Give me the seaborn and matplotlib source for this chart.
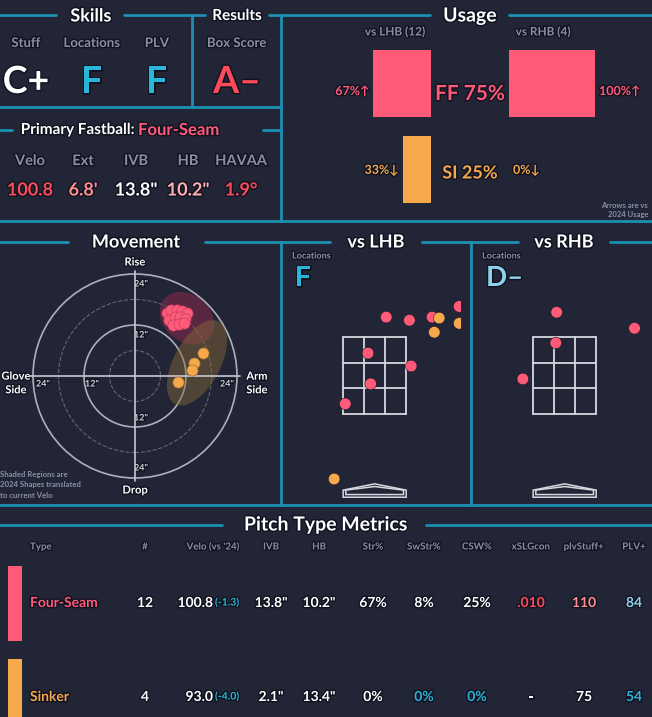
import numpy as np
import pandas as pd
import seaborn as sns
import matplotlib.pyplot as plt
import matplotlib.patheffects as pe
from matplotlib.patches import Ellipse, Circle, Polygon

# ---- data ----
skill_names = ['Stuff', 'Locations', 'PLV', 'Box Score']
skill_grades = ['C+', 'F', 'F', 'A-']
fb_labels = ['Velo', 'Ext', 'IVB', 'HB', 'HAVAA']
fb_values = ['100.8', "6.8'", '13.8"', '10.2"', '1.9°']

usage_types = ['FF', 'SI']
usage_lhb = [67, 33]
usage_rhb = [100, 0]
usage_all = [75, 25]
usage_arrow_lhb = ['↑', '↓']
usage_arrow_rhb = ['↑', '↓']

ff_hb = [7.5, 8.5, 9.8, 11.0, 12.2, 8.0, 9.3, 10.5, 11.8, 9.0, 10.4, 11.5]
ff_ivb = [14.8, 15.5, 15.6, 15.4, 14.8, 13.2, 13.8, 14.0, 13.5, 12.0, 12.2, 12.4]
si_hb = [15.9, 13.9, 13.3, 10.0]
si_ivb = [5.4, 3.1, 1.4, -1.4]

lhb_pitch = ['FF'] * 8 + ['SI'] * 4
lhb_x = [0.26, 0.78, 1.29, 1.90, -0.15, 0.82, -0.09, -0.66, 1.45, 1.34, 1.90, -0.91]
lhb_z = [3.78, 3.71, 3.78, 4.02, 2.97, 2.68, 2.28, 1.83, 3.76, 3.44, 3.64, 0.14]
rhb_pitch = ['FF'] * 4
rhb_x = [-0.18, 1.57, -0.20, -0.94]
rhb_z = [3.89, 3.53, 3.20, 2.39]

table_cols = ['Type', '#', "Velo (vs '24)", 'IVB', 'HB', 'Str%', 'SwStr%', 'CSW%', 'xSLGcon', 'plvStuff+', 'PLV+']
row_ff = ['Four-Seam', '12', '100.8', '13.8"', '10.2"', '67%', '8%', '25%', '.010', '110', '84']
row_si = ['Sinker', '4', '93.0', '2.1"', '13.4"', '0%', '0%', '0%', '-', '75', '54']
velo_diff = ['(-1.3)', '(-4.0)']

# ---- style ----
BG = '#222535'
LINE = '#1d8fb3'
GRAY = '#8a8fa6'
PINK = '#ff5a78'
ORANGE = '#f5a84c'
CYAN = '#2bb5d8'
LCYAN = '#8fd3ea'
RED = '#ff4a5a'
LRED = '#ff8f8f'
WHITE = '#ffffff'
pcol = {'FF': PINK, 'SI': ORANGE}

sns.set_theme(style='dark')
plt.rcParams['font.family'] = ['Lato', 'DejaVu Sans']
plt.rcParams['font.weight'] = 'bold'

W, H = 652, 717
fig = plt.figure(figsize=(6.52, 7.17), dpi=100, facecolor=BG)
ov = fig.add_axes([0, 0, 1, 1])
ov.set_xlim(0, W)
ov.set_ylim(H, 0)
ov.axis('off')
ov.set_facecolor(BG)

stroke = [pe.withStroke(linewidth=2, foreground='#101220')]


def txt(x, y, s, size=10, color=WHITE, ha='center', **kw):
    ov.text(x, y, s, fontsize=size, color=color, ha=ha, va='center',
            fontweight='bold', path_effects=stroke, **kw)


def hline(x0, x1, y):
    ov.plot([x0, x1], [y, y], color=LINE, lw=2)


def vline(x, y0, y1):
    ov.plot([x, x], [y0, y1], color=LINE, lw=2)


def px_axes(x0, y0, x1, y1):
    a = fig.add_axes([x0 / W, 1 - y1 / H, (x1 - x0) / W, (y1 - y0) / H])
    a.set_facecolor('none')
    a.axis('off')
    return a


# frame lines
hline(0, 56, 15); hline(124, 205, 15); hline(269, 430, 15); hline(509, W, 15)
vline(192, 15, 107); vline(281, 15, 221)
hline(0, 281, 107)
hline(0, 12, 130); hline(263, 281, 130)
hline(0, W, 221)
hline(0, 68, 242); hline(205, 330, 242); hline(422, 518, 242); hline(610, W, 242)
vline(281, 242, 505); vline(471, 242, 505)
hline(0, W, 505)
hline(0, 222, 525); hline(426, W, 525)

# top-left panels
txt(91, 16, 'Skills', 13)
txt(237, 16, 'Results', 11)
txt(470, 16, 'Usage', 14)
skill_x = [26, 92, 157, 237]
grade_col = [WHITE, CYAN, CYAN, RED]
for x, n, g, c in zip(skill_x, skill_names, skill_grades, grade_col):
    txt(x, 43, n, 9.5, GRAY)
    txt(x, 82, g.replace('-', '–'), 27, c)
txt(138, 130, 'Primary Fastball: ', 11, WHITE, ha='right')
txt(138, 130, 'Four-Seam', 12, PINK, ha='left')
fb_x = [30, 83, 136, 188, 241]
fb_col = [RED, LRED, WHITE, '#ffb0b0', RED]
for x, l, v, c in zip(fb_x, fb_labels, fb_values, fb_col):
    txt(x, 161, l, 10.5, GRAY)
    txt(x, 190, v, 13, c)

# usage
txt(395, 32, 'vs LHB (12)', 8.5, GRAY)
txt(543, 32, 'vs RHB (4)', 8.5, GRAY)
udf = pd.DataFrame({'type': usage_types, 'lhb': usage_lhb, 'rhb': usage_rhb})
ax_l = px_axes(345, 40, 431, 213)
sns.barplot(data=udf, x='lhb', y='type', hue='type', palette=pcol, orient='h',
            width=0.78, ax=ax_l, legend=False, saturation=1, linewidth=0)
ax_l.set_xlim(100, 0); ax_l.set_ylim(1.5, -0.5); ax_l.axis('off')
ax_r = px_axes(509, 40, 595, 213)
sns.barplot(data=udf, x='rhb', y='type', hue='type', palette=pcol, orient='h',
            width=0.78, ax=ax_r, legend=False, saturation=1, linewidth=0)
ax_r.set_xlim(0, 100); ax_r.set_ylim(1.5, -0.5); ax_r.axis('off')
row_y = [91, 170]
for i, t in enumerate(usage_types):
    c = pcol[t]
    left_edge = 431 - usage_lhb[i] * 0.86
    txt(left_edge - 4, row_y[i], f'{usage_lhb[i]}%{usage_arrow_lhb[i]}', 9, c, ha='right',
        family=['Lato', 'DejaVu Sans'])
    txt(509 + usage_rhb[i] * 0.86 + 4, row_y[i], f'{usage_rhb[i]}%{usage_arrow_rhb[i]}', 9, c,
        ha='left', family=['Lato', 'DejaVu Sans'])
    txt(470, row_y[i] + 3, f'{t} {usage_all[i]}%', 15 if i == 0 else 13, c)
ov.text(648, 210, 'Arrows are vs\n2024 Usage', fontsize=5.5, color=GRAY, ha='right',
        va='center', fontweight='bold', linespacing=1.5)

# movement
txt(136, 242, 'Movement', 13)
txt(376, 242, 'vs LHB', 13)
txt(564, 242, 'vs RHB', 13)
am = px_axes(7.5, 248.5, 262.5, 503.5)
am.set_xlim(-30, 30); am.set_ylim(-30, 30)
for r, ls in [(6, '--'), (12, '-'), (18, '--'), (24, '-')]:
    am.add_patch(Circle((0, 0), r, fill=False, ec='#c8c8d0', lw=1.2 if ls == '-' else 0.8,
                        ls=ls, alpha=0.85 if ls == '-' else 0.4))
am.plot([-24.7, 24.7], [0, 0], color='#c8c8d0', lw=1.2)
am.plot([0, 0], [-24.7, 24.7], color='#c8c8d0', lw=1.2)
am.add_patch(Ellipse((12.2, 13.6), 14, 11, angle=-40, color='#a02a55', alpha=0.45, lw=0))
am.add_patch(Ellipse((14.6, 3.1), 22, 11, angle=62, color='#8a6a3a', alpha=0.45, lw=0))
sns.scatterplot(x=ff_hb, y=ff_ivb, color=PINK, s=65, edgecolor='#c04060', linewidth=0.5,
                ax=am, zorder=5)
sns.scatterplot(x=si_hb, y=si_ivb, color=ORANGE, s=65, edgecolor='#a07030', linewidth=0.5,
                ax=am, zorder=5)
am.axis('off')
for s, x, y in [('24"', 141, 284), ('12"', 141, 335), ('12"', 141, 418), ('24"', 141, 468),
                ('24"', 43, 384), ('12"', 92, 384), ('24"', 227, 384)]:
    txt(x, y, s, 6.5, '#d0d0d8')
txt(135, 262, 'Rise', 8)
txt(135, 490, 'Drop', 8)
txt(16, 383, 'Glove\nSide', 8, linespacing=1.3)
txt(257, 383, 'Arm\nSide', 8, linespacing=1.3)
ov.text(0, 485, 'Shaded Regions are\n2024 Shapes translated\nto current Velo', fontsize=5.6,
        color=GRAY, ha='left', va='center', fontweight='bold', linespacing=1.5)

# locations
def location_panel(x0, xs, zs, types):
    a = px_axes(x0, 262, x0 + 178, 503)
    a.set_xlim(-2.06, 1.94); a.set_ylim(-0.4, 5.02)
    zx = [-0.708, -0.236, 0.236, 0.708]
    zz = [1.6, 2.177, 2.753, 3.33]
    for v in zx:
        a.plot([v, v], [zz[0], zz[-1]], color='#d8d8e0', lw=1.3)
    for v in zz:
        a.plot([zx[0], zx[-1]], [v, v], color='#d8d8e0', lw=1.3)
    for off in [0, 0.06]:
        a.add_patch(Polygon([(-0.708 + off, -0.27 + off), (-0.708 + off, -0.11), (0, 0.03 - off),
                             (0.708 - off, -0.11), (0.708 - off, -0.27 + off)],
                            closed=True, fill=False, ec='#d8d8e0', lw=1.1))
    df = pd.DataFrame({'x': xs, 'z': zs, 't': types})
    sns.scatterplot(data=df, x='x', y='z', hue='t', palette=pcol, s=70, edgecolor='#1a1a28',
                    linewidth=0.4, ax=a, legend=False, zorder=5)
    a.axis('off')
    return a


location_panel(283, lhb_x, lhb_z, lhb_pitch)
location_panel(473, rhb_x, rhb_z, rhb_pitch)
txt(292, 256, 'Locations', 6.5, GRAY, ha='left')
txt(303, 278, 'F', 20, CYAN)
txt(482, 256, 'Locations', 6.5, GRAY, ha='left')
txt(486, 278, 'D–', 20, LCYAN, ha='left')

# table
txt(326, 525, 'Pitch Type Metrics', 14)
col_x = [30, 145, 213, 271, 319, 373, 424, 477, 531, 584, 634]
for i, (x, c) in enumerate(zip(col_x, table_cols)):
    txt(x, 547, c, 7, GRAY, ha='left' if i == 0 else 'center')
rows = [(row_ff, 603, PINK, (566, 641), [WHITE] * 8 + [RED, LRED, LCYAN]),
        (row_si, 697, ORANGE, (659, 722), [WHITE] * 6 + [CYAN, CYAN, WHITE, WHITE, CYAN])]
for k, (row, y, pc, (b0, b1), cols) in enumerate(rows):
    ov.add_patch(plt.Rectangle((8, b0), 14, b1 - b0, color=pc, lw=0))
    txt(30, y, row[0], 10, pc, ha='left')
    txt(col_x[1], y, row[1], 10)
    txt(213, y, row[2], 10, ha='right')
    txt(215, y, velo_diff[k], 7.5, CYAN, ha='left')
    for x, v, c in zip(col_x[3:], row[3:], cols[3:]):
        txt(x, y, v, 10, c)

fig.savefig('out.png', dpi=100, facecolor=BG)
